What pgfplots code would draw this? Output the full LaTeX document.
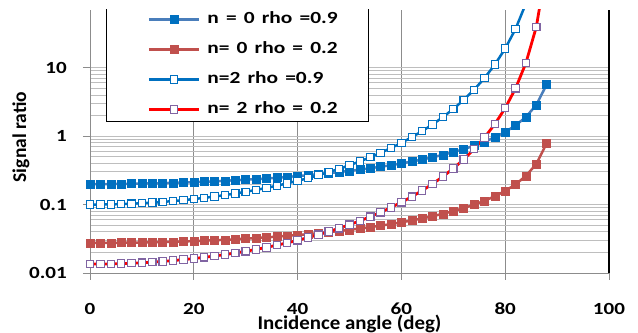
\documentclass[border=0pt]{standalone}
\usepackage{pgfplots}
\pgfplotsset{compat=1.18}
\usepackage{pgfplotstable}
\usepackage{graphicx}
\usepackage{fontspec}
\setmainfont{Carlito}
\definecolor{bluefill}{RGB}{0,112,192}
\definecolor{blueline}{RGB}{74,126,187}
\definecolor{redE}{RGB}{192,80,77}
\definecolor{purpleE}{RGB}{128,100,162}
\definecolor{gridc}{RGB}{190,190,190}
\definecolor{vgrid}{RGB}{140,140,140}
\newcommand{\sx}[1]{\scalebox{1.24}[1]{#1}}
\newcommand{\lx}[1]{\scalebox{1.26}[1]{#1}}

\pgfplotstableread{
x s1 s2 s3 s4
0 0.200 0.0275 0.1000 0.01350
2 0.200 0.0275 0.1002 0.01352
4 0.200 0.0276 0.1007 0.01360
6 0.201 0.0277 0.1017 0.01372
8 0.202 0.0278 0.1030 0.01390
10 0.203 0.0279 0.1047 0.01413
12 0.204 0.0281 0.1068 0.01442
14 0.206 0.0283 0.1095 0.01478
16 0.208 0.0286 0.1126 0.01520
18 0.210 0.0289 0.1163 0.01570
20 0.213 0.0293 0.1205 0.01627
22 0.216 0.0297 0.1255 0.01694
24 0.219 0.0301 0.1312 0.01771
26 0.223 0.0306 0.1377 0.01859
28 0.227 0.0311 0.1453 0.01961
30 0.231 0.0318 0.1540 0.02078
32 0.236 0.0324 0.1640 0.02214
34 0.241 0.0332 0.1755 0.02369
36 0.247 0.0340 0.1889 0.02550
38 0.254 0.0349 0.2044 0.02759
40 0.261 0.0359 0.2225 0.03003
42 0.269 0.0370 0.2436 0.03289
44 0.278 0.0382 0.2687 0.03627
46 0.288 0.0396 0.2984 0.04028
48 0.299 0.0411 0.3338 0.04506
50 0.311 0.0428 0.3765 0.05083
52 0.325 0.0447 0.4286 0.05786
54 0.340 0.0468 0.4924 0.06648
56 0.358 0.0492 0.5719 0.07721
58 0.377 0.0519 0.6720 0.09072
60 0.400 0.0550 0.800 0.1080
62 0.426 0.0586 0.967 0.1305
64 0.456 0.0627 1.187 0.1603
66 0.492 0.0676 1.486 0.2006
68 0.534 0.0734 1.902 0.2568
70 0.585 0.0804 2.500 0.3374
72 0.647 0.0890 3.389 0.4575
74 0.726 0.0998 4.775 0.6447
76 0.827 0.1137 7.063 0.9535
78 0.962 0.1323 11.13 1.502
80 1.152 0.1584 19.10 2.578
82 1.437 0.1976 37.10 5.008
84 1.913 0.2631 87.56 11.82
86 2.867 0.3942 294.6 39.77
88 5.731 0.7880 2353 317.6
}\data

\begin{document}
\begin{tikzpicture}
\useasboundingbox (-90bp,-60bp) rectangle (548bp,273bp);
\begin{scope}
\clip (-90bp,-60bp) rectangle (548bp,263bp);
\begin{axis}[
  at={(0,0)}, anchor=south west, scale only axis,
  width=519bp, height=263bp,
  ymode=log, xmin=0, xmax=100, ymin=0.01, ymax=70,
  axis x line*=bottom, axis y line*=left,
  axis line style={vgrid, line width=0.8pt, -},
  xtick={0,20,40,60,80,100},
  xticklabels={\sx{0},\sx{20},\sx{40},\sx{60},\sx{80},\sx{100}},
  ytick={0.01,0.1,1,10}, yticklabels={\sx{0.01},\sx{0.1},\sx{1},\sx{10}},
  xmajorgrids, ymajorgrids, yminorgrids,
  x grid style={vgrid, line width=0.8pt},
  y grid style={gridc, line width=1pt},
  minor tick length=0pt, major tick length=7bp, tick align=outside,
  tick style={vgrid, line width=0.8pt},
  ticklabel style={font=\fontsize{17bp}{20bp}\selectfont\bfseries, inner sep=0pt},
  xticklabel style={anchor=north, yshift=-23bp},
  yticklabel style={anchor=east, xshift=-16bp},
  xlabel={Incidence angle (deg)}, ylabel={Signal ratio},
  label style={font=\fontsize{19.5bp}{22bp}\selectfont\bfseries},
  xlabel style={at={(axis description cs:0.5,0)}, anchor=base, yshift=-56bp, xscale=1.07, transform shape},
  ylabel style={at={(axis description cs:-0.133,0.517)}, anchor=center},
  legend style={at={(axis description cs:0.0308,0.574)}, anchor=south west,
    draw=black, line width=1.2pt, fill=white, inner xsep=0pt, inner ysep=4bp,
    row sep=14bp, column sep=7bp,
    font=\fontsize{17bp}{20bp}\selectfont\bfseries,
    nodes={inner sep=0pt, text height=12bp, text depth=4bp, text width=161bp, align=left}},
  legend cell align=left,
  legend image code/.code={\path (-41bp,0bp);
    \draw[mark repeat=2,mark phase=2,#1] plot coordinates {(0bp,0bp) (25bp,0bp) (50bp,0bp)};},
  after end axis/.code={\draw[black, line width=1.6pt] (rel axis cs:1,0) -- (rel axis cs:1,1);},
]
\addplot[blueline, line width=2.5pt, mark=square*, mark size=4bp,
  mark options={draw=bluefill, fill=bluefill, line width=0.5pt, solid}] table[x=x,y=s1]{\data};
\addlegendentry{\lx{n = 0 rho =0.9}}
\addplot[redE, line width=2.5pt, mark=square*, mark size=4bp,
  mark options={draw=redE, fill=redE, line width=0.5pt, solid}] table[x=x,y=s2]{\data};
\addlegendentry{\lx{n= 0 rho = 0.2}}
\addplot[bluefill, line width=2.5pt, mark=square*, mark size=3.7bp,
  mark options={draw=bluefill, fill=white, line width=1.1pt, solid}] table[x=x,y=s3]{\data};
\addlegendentry{\lx{n=2 rho =0.9}}
\addplot[red, line width=2.8pt, mark=square*, mark size=3.7bp,
  mark options={draw=purpleE, fill=white, line width=1.1pt, solid}] table[x=x,y=s4]{\data};
\addlegendentry{\lx{n= 2 rho = 0.2}}
\end{axis}
\end{scope}
\end{tikzpicture}
\end{document}
